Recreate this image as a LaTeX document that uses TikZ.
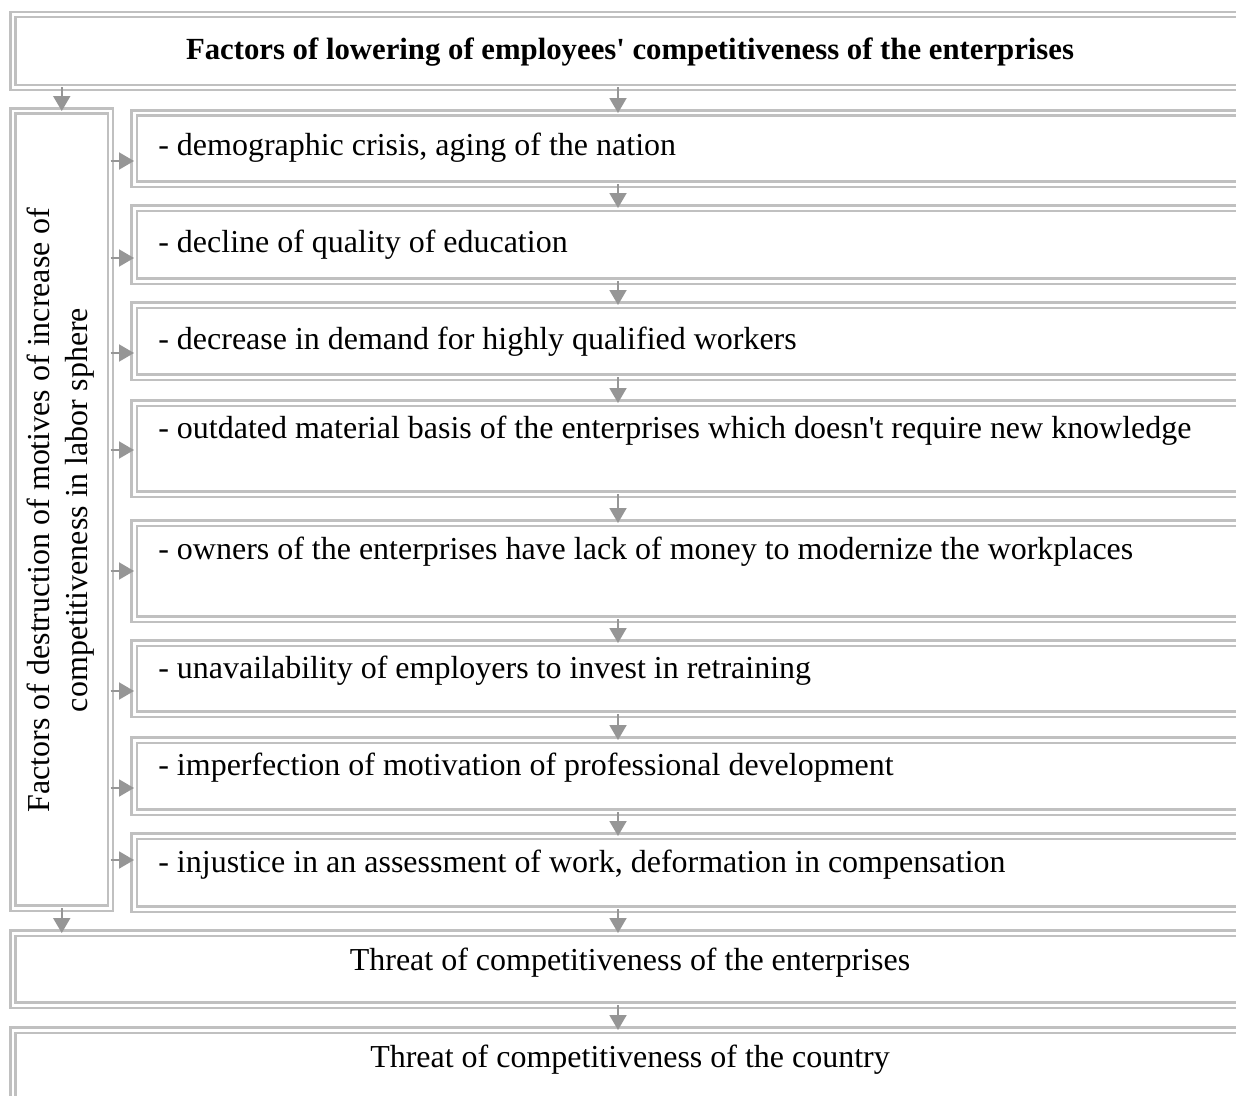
\documentclass[tikz,border=0pt]{standalone}
\usepackage{fontspec}
\setmainfont{Liberation Serif}
\usetikzlibrary{arrows.meta,positioning,calc}
\definecolor{framegray}{RGB}{192,192,192}
\definecolor{arrowgray}{RGB}{150,150,150}

\begin{document}
\begin{tikzpicture}[x=0.02cm, y=-0.02cm,
    frame/.style={draw=framegray, line width=0.045cm, double=white, double distance=0.06cm, inner sep=0pt, outer sep=0pt},
    flow/.style={arrowgray, line width=0.04cm, -{Triangle[length=0.3cm,width=0.34cm]}},
    txt/.style={font=\fontsize{18.2}{21.5}\selectfont, inner sep=0pt}]
    \useasboundingbox (0,0) rectangle (1236,1095);
    \clip (0,0) rectangle (1236,1095);

    % Heading box
    \node[frame, minimum width=1235*0.02cm, minimum height=73*0.02cm] (top) at (630.5,51) {};
    \node[txt, font=\fontsize{17.5}{21.5}\selectfont\bfseries] (toptxt) at (630,52) {Factors of lowering of employees\textquotesingle{} competitiveness of the enterprises};

    % Left column
    \node[frame, minimum width=97.5*0.02cm, minimum height=797*0.02cm] (lft) at (61.75,509.5) {};
    \node[txt, rotate=90, align=center] (lfttxt) at (61,510) {Factors of destruction of motives of increase of\\competitiveness in labor sphere};

    % Factor boxes
    \foreach \i/\t/\b/\ty/\ay/\txt in {
        1/113/184/148/161/{- demographic crisis, aging of the nation},
        2/208/281/245/258/{- decline of quality of education},
        3/305/377/342/353/{- decrease in demand for highly qualified workers},
        4/403/494/431/450/{- outdated material basis of the enterprises which doesn\textquotesingle t require new knowledge},
        5/523/619/552/571/{- owners of the enterprises have lack of money to modernize the workplaces},
        6/643/714/671/691/{- unavailability of employers to invest in retraining},
        7/740/812/768/788/{- imperfection of motivation of professional development},
        8/836/909/865/860/{- injustice in an assessment of work, deformation in compensation}} {
        \node[frame, minimum width=1126*0.02cm, minimum height={(\b-\t)*0.02cm}] (item\i) at (697,{(\t+\b)/2}) {};
        \node[txt, anchor=west] (label\i) at (158,\ty) {\txt};
        \draw[flow] (lft.east |- 0,\ay) -- (item\i.west |- 0,\ay);
    }

    % Threat boxes
    \node[frame, minimum width=1235*0.02cm, minimum height=72*0.02cm] (threat1) at (630.5,969) {};
    \node[txt] (threat1txt) at (630,963) {Threat of competitiveness of the enterprises};
    \node[frame, minimum width=1235*0.02cm, minimum height=80*0.02cm] (threat2) at (630.5,1070) {};
    \node[txt] (threat2txt) at (630,1060) {Threat of competitiveness of the country};

    % Arrows down the middle
    \coordinate (mid) at (618,0);
    \draw[flow] (top.south -| mid) -- (item1.north -| mid);
    \foreach \i [evaluate=\i as \j using int(\i+1)] in {1,...,7} {
        \draw[flow] (item\i.south -| mid) -- (item\j.north -| mid);
    }
    \draw[flow] (item8.south -| mid) -- (threat1.north -| mid);
    \draw[flow] (threat1.south -| mid) -- (threat2.north -| mid);

    % Arrows on the left
    \draw[flow] (top.south -| lft.north) -- (lft.north);
    \draw[flow] (lft.south) -- (threat1.north -| lft.south);
\end{tikzpicture}
\end{document}
